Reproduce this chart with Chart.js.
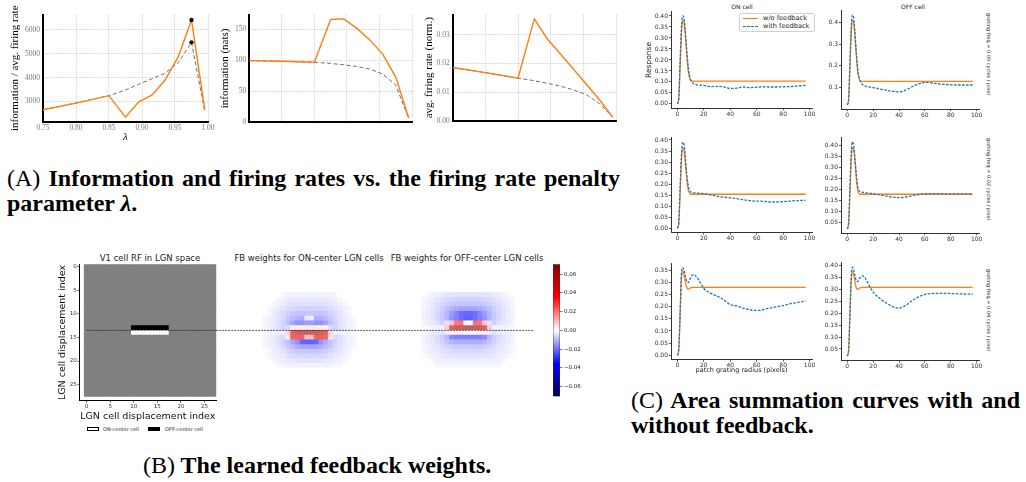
<!DOCTYPE html>
<html lang="en">
<head>
<meta charset="UTF-8">
<title>Feedback weights figure</title>
<script src="https://cdn.jsdelivr.net/npm/chart.js"></script>
<style>
  html, body { margin: 0; padding: 0; background: #fff; }
  body { position: relative; width: 1026px; height: 482px; overflow: hidden; font-family: "DejaVu Sans", sans-serif; }
  canvas { position: absolute; }
  .t { position: absolute; white-space: nowrap; line-height: 1; color: #222; transform: translate(-50%, -50%); }
  .rot { transform: translate(-50%, -50%) rotate(90deg); }
  .cap { position: absolute; font-family: "Liberation Serif", "Times New Roman", serif; font-size: 24px; line-height: 25px; font-weight: bold; color: #000; text-align: justify; }
  .cap .n { font-weight: normal; }
  .legend { position: absolute; left: 739px; top: 12.5px; width: 76px; height: 19px; border: 0.8px solid #d0d0d0; border-radius: 2px; background: rgba(255,255,255,0.85); box-sizing: border-box; }
  .legend .s { position: absolute; left: 3px; width: 15px; height: 0; }
  .legend .l { position: absolute; left: 23px; font-size: 6.6px; line-height: 1; color: #222; }
  .box { position: absolute; height: 4px; width: 12px; box-sizing: border-box; border: 0.7px solid #000; }
</style>
</head>
<body>

<!-- panel A caption -->
<div class="cap" style="left:7px; top:166px; width:613px;"><span class="n">(A)</span> Information and firing rates vs. the firing rate penalty parameter <i>λ</i>.</div>

<!-- panel B texts -->
<div class="t" style="left:150px; top:258px; font-size:8.5px;">V1 cell RF in LGN space</div>
<div class="t" style="left:309px; top:258px; font-size:8.5px;">FB weights for ON-center LGN cells</div>
<div class="t" style="left:467px; top:258px; font-size:8.5px;">FB weights for OFF-center LGN cells</div>
<div class="box" style="left:87px; top:426.5px; background:#fff;"></div>
<div class="t" style="left:121px; top:428.5px; font-size:5px;">ON-center cell</div>
<div class="box" style="left:148px; top:426.5px; background:#000;"></div>
<div class="t" style="left:184px; top:428.5px; font-size:5px;">OFF-center cell</div>
<div class="cap" style="left:143px; top:453px;"><span class="n">(B)</span> The learned feedback weights.</div>

<!-- panel C texts -->
<div class="t" style="left:742px; top:7px; font-size:6px;">ON cell</div>
<div class="t" style="left:913px; top:7px; font-size:6px;">OFF cell</div>
<div class="t rot" style="left:988px; top:54px; font-size:5px;">grating freq = 0.00 cycles / pixel</div>
<div class="t rot" style="left:988px; top:179px; font-size:5px;">grating freq = 0.02 cycles / pixel</div>
<div class="t rot" style="left:988px; top:310px; font-size:5px;">grating freq = 0.04 cycles / pixel</div>
<div class="legend">
  <div class="s" style="top:4.5px; border-top:1.4px solid #ff7f0e;"></div>
  <div class="l" style="top:1.6px;">w/o feedback</div>
  <div class="s" style="top:12.5px; border-top:1.4px dashed #1f77b4;"></div>
  <div class="l" style="top:9.6px;">with feedback</div>
</div>
<div class="cap" style="left:631px; top:388px; width:389px;"><span class="n">(C)</span> Area summation curves with and without feedback.</div>

<script>
// ---------- panel A data ----------
const lambdas = [0.75, 0.80, 0.85, 0.875, 0.895, 0.915, 0.935, 0.955, 0.975, 0.995];
const peakLambda = 0.975;
const infoPerRateSolid  = [2650, 2930, 3240, 2340, 2980, 3260, 3900, 4880, 6420, 2680];
const infoPerRateDashed = [2650, 2930, 3240, 3480, 3720, 3950, 4190, 4630, 5480, 2600];
const infoPerRateTicks  = [3000, 4000, 5000, 6000];
const infoSolid  = [99.5, 98.5, 97, 166, 167, 152, 133, 110, 73, 7];
const infoDashed = [99.5, 98.5, 97, 95, 93, 90, 86, 78, 60, 6];
const infoTicks  = [0, 50, 100, 150];
const rateSolid  = [0.0186, 0.0168, 0.0149, 0.0355, 0.0285, 0.0233, 0.0180, 0.0127, 0.0073, 0.0013];
const rateDashed = [0.0186, 0.0168, 0.0149, 0.0140, 0.0131, 0.0121, 0.0108, 0.0091, 0.0060, 0.0013];
const rateTicks  = [0.00, 0.01, 0.02, 0.03];

// ---------- panel B data ----------
const gridSize = 28;
const heatTicks = [0, 5, 10, 15, 20, 25];
const cutRow = 13.5;
const cutStart = [0, -6.3, -6.3];
const cutEnd = [27.5, 27.5, 27.2];
const rfRow0 = 13, rfCol0 = 10;
const rfBlock = [
  [-1, -1, -1, -1, -1, -1, -1, -1],
  [ 1,  1,  1,  1,  1,  1,  1,  1]
];
const blockRow0 = 6, blockCol0 = 4;
const onBlock = [
  [0, 0, 0, 0, -.002, -.003, -.003, -.003, -.003, -.003, -.003, -.003, -.003, -.003, -.003, -.002, 0, 0, 0, 0],
  [0, 0, 0, -.002, -.003, -.004, -.005, -.005, -.005, -.005, -.005, -.005, -.005, -.005, -.004, -.003, -.002, 0, 0, 0],
  [0, 0, -.002, -.003, -.005, -.006, -.007, -.007, -.007, -.007, -.007, -.007, -.007, -.007, -.006, -.005, -.003, -.002, 0, 0],
  [0, -.002, -.003, -.005, -.006, -.008, -.009, -.010, -.010, -.010, -.010, -.010, -.010, -.009, -.008, -.006, -.005, -.003, -.002, 0],
  [0, -.002, -.004, -.006, -.008, -.010, -.012, -.013, -.013, -.013, -.013, -.013, -.013, -.012, -.010, -.008, -.006, -.004, -.002, 0],
  [-.002, -.003, -.004, -.006, -.009, -.012, -.015, -.017, -.018, -.005, -.004, -.018, -.017, -.015, -.012, -.009, -.006, -.004, -.003, -.002],
  [-.002, -.003, -.005, -.007, -.010, -.014, -.020, -.024, -.024, -.022, -.022, -.024, -.024, -.020, -.014, -.010, -.007, -.005, -.003, -.002],
  [-.002, -.003, -.005, -.007, -.010, -.008, .003, .004, .005, .005, .005, .005, .004, .003, -.008, -.010, -.007, -.005, -.003, -.002],
  [-.001, -.002, -.003, -.004, -.004, .010, .045, .058, .060, .060, .060, .060, .058, .045, .010, -.004, -.004, -.003, -.002, -.001],
  [-.002, -.003, -.005, -.007, -.008, .005, .040, .045, .040, .015, .015, .040, .045, .035, .005, -.008, -.007, -.005, -.003, -.002],
  [-.002, -.003, -.005, -.007, -.010, -.014, -.020, -.024, -.034, -.036, -.036, -.034, -.024, -.018, -.014, -.010, -.007, -.005, -.003, -.002],
  [-.002, -.003, -.004, -.006, -.009, -.012, -.015, -.018, -.020, -.020, -.020, -.020, -.018, -.015, -.012, -.009, -.006, -.004, -.003, -.002],
  [0, -.002, -.004, -.005, -.007, -.009, -.011, -.012, -.013, -.013, -.013, -.013, -.012, -.011, -.009, -.007, -.005, -.004, -.002, 0],
  [0, -.002, -.003, -.004, -.005, -.007, -.008, -.009, -.009, -.009, -.009, -.009, -.009, -.008, -.007, -.005, -.004, -.003, -.002, 0],
  [0, 0, -.002, -.003, -.004, -.005, -.005, -.006, -.006, -.006, -.006, -.006, -.006, -.005, -.005, -.004, -.003, -.002, 0, 0],
  [0, 0, 0, -.002, -.002, -.003, -.003, -.003, -.003, -.003, -.003, -.003, -.003, -.003, -.003, -.002, -.002, 0, 0, 0]
];
const offBlock = [
  [0, -.002, -.003, -.004, -.005, -.006, -.006, -.007, -.007, -.007, -.007, -.007, -.007, -.006, -.006, -.005, -.004, -.003, -.002, 0],
  [-.002, -.003, -.004, -.006, -.007, -.008, -.009, -.010, -.010, -.010, -.010, -.010, -.010, -.009, -.008, -.007, -.006, -.004, -.003, -.002],
  [-.002, -.003, -.005, -.007, -.009, -.011, -.012, -.013, -.013, -.013, -.013, -.013, -.013, -.012, -.011, -.009, -.007, -.005, -.003, -.002],
  [-.002, -.004, -.006, -.008, -.011, -.014, -.017, -.019, -.020, -.020, -.020, -.020, -.019, -.017, -.014, -.011, -.008, -.006, -.004, -.002],
  [-.003, -.004, -.006, -.009, -.012, -.016, -.022, -.027, -.032, -.034, -.034, -.032, -.027, -.022, -.016, -.012, -.009, -.006, -.004, -.003],
  [-.003, -.004, -.006, -.009, -.012, -.017, -.024, -.028, -.032, -.036, -.036, -.032, -.028, -.024, -.017, -.012, -.009, -.006, -.004, -.003],
  [-.002, -.004, -.005, -.007, -.010, -.006, .012, .030, .032, .002, .000, .032, .030, .012, -.006, -.010, -.007, -.005, -.004, -.002],
  [-.001, -.002, -.003, -.003, -.003, .012, .050, .060, .060, .060, .060, .060, .060, .050, .012, -.003, -.003, -.003, -.002, -.001],
  [-.002, -.003, -.004, -.005, -.006, -.004, .002, .003, .002, .002, .002, .002, .003, .002, -.004, -.006, -.005, -.004, -.003, -.002],
  [-.003, -.004, -.006, -.008, -.011, -.016, -.026, -.028, -.028, -.028, -.028, -.028, -.028, -.026, -.016, -.011, -.008, -.006, -.004, -.003],
  [-.002, -.004, -.005, -.007, -.010, -.013, -.016, -.018, -.018, -.018, -.018, -.018, -.018, -.016, -.013, -.010, -.007, -.005, -.004, -.002],
  [-.002, -.003, -.005, -.006, -.008, -.010, -.011, -.012, -.012, -.012, -.012, -.012, -.012, -.011, -.010, -.008, -.006, -.005, -.003, -.002],
  [-.002, -.003, -.004, -.005, -.006, -.007, -.008, -.009, -.009, -.009, -.009, -.009, -.009, -.008, -.007, -.006, -.005, -.004, -.003, -.002],
  [0, -.002, -.003, -.004, -.005, -.006, -.006, -.006, -.006, -.006, -.006, -.006, -.006, -.006, -.006, -.005, -.004, -.003, -.002, 0],
  [0, 0, -.002, -.003, -.003, -.004, -.004, -.004, -.004, -.004, -.004, -.004, -.004, -.004, -.004, -.003, -.003, -.002, 0, 0],
  [0, 0, 0, -.002, -.002, -.002, -.002, -.002, -.002, -.002, -.002, -.002, -.002, -.002, -.002, -.002, -.002, 0, 0, 0]
];
const weightLimit = 0.0705;
const colorbarTicks = 0.02;

// ---------- panel C data ----------
const radius = [0, 1, 2, 3, 4, 5, 6, 7, 8, 9, 10, 11, 12, 13, 14, 16, 18, 20, 25, 30, 35, 40, 45, 50, 55, 60, 65, 70, 75, 80, 85, 90, 97];
const on00Plain = [0.000, 0.020, 0.160, 0.310, 0.380, 0.370, 0.310, 0.230, 0.160, 0.122, 0.107, 0.104, 0.104, 0.104, 0.104, 0.104, 0.104, 0.104, 0.104, 0.104, 0.104, 0.104, 0.104, 0.104, 0.104, 0.104, 0.104, 0.104, 0.104, 0.104, 0.104, 0.104, 0.104];
const on00Fb    = [0.000, 0.025, 0.190, 0.340, 0.400, 0.390, 0.330, 0.250, 0.180, 0.135, 0.110, 0.100, 0.093, 0.090, 0.088, 0.086, 0.085, 0.084, 0.079, 0.080, 0.077, 0.070, 0.072, 0.077, 0.074, 0.076, 0.078, 0.077, 0.077, 0.078, 0.079, 0.081, 0.084];
const off00Plain = [0.020, 0.040, 0.180, 0.340, 0.410, 0.400, 0.330, 0.250, 0.180, 0.145, 0.132, 0.129, 0.129, 0.129, 0.129, 0.129, 0.129, 0.129, 0.129, 0.129, 0.129, 0.129, 0.129, 0.129, 0.129, 0.129, 0.129, 0.129, 0.129, 0.129, 0.129, 0.129, 0.129];
const off00Fb    = [0.020, 0.045, 0.200, 0.370, 0.435, 0.420, 0.350, 0.260, 0.190, 0.150, 0.130, 0.120, 0.113, 0.110, 0.107, 0.104, 0.102, 0.100, 0.094, 0.088, 0.083, 0.080, 0.088, 0.104, 0.117, 0.124, 0.122, 0.118, 0.115, 0.113, 0.112, 0.112, 0.112];
const on02Plain = [0.000, 0.020, 0.150, 0.300, 0.365, 0.355, 0.300, 0.230, 0.180, 0.160, 0.155, 0.154, 0.154, 0.154, 0.154, 0.154, 0.154, 0.154, 0.154, 0.154, 0.154, 0.154, 0.154, 0.154, 0.154, 0.154, 0.154, 0.154, 0.154, 0.154, 0.154, 0.154, 0.154];
const on02Fb    = [0.000, 0.025, 0.180, 0.330, 0.390, 0.380, 0.320, 0.250, 0.200, 0.175, 0.165, 0.162, 0.160, 0.160, 0.160, 0.159, 0.158, 0.157, 0.151, 0.145, 0.141, 0.138, 0.134, 0.129, 0.125, 0.123, 0.122, 0.119, 0.119, 0.121, 0.123, 0.125, 0.127];
const off02Plain = [0.020, 0.040, 0.170, 0.330, 0.390, 0.380, 0.320, 0.250, 0.200, 0.182, 0.178, 0.178, 0.178, 0.178, 0.178, 0.178, 0.178, 0.178, 0.178, 0.178, 0.178, 0.178, 0.178, 0.178, 0.178, 0.178, 0.178, 0.178, 0.178, 0.178, 0.178, 0.178, 0.178];
const off02Fb    = [0.020, 0.045, 0.200, 0.360, 0.418, 0.400, 0.340, 0.270, 0.215, 0.195, 0.190, 0.188, 0.187, 0.186, 0.185, 0.183, 0.182, 0.181, 0.176, 0.170, 0.165, 0.163, 0.165, 0.171, 0.177, 0.180, 0.181, 0.181, 0.181, 0.180, 0.180, 0.180, 0.180];
const on04Plain = [0.000, 0.020, 0.150, 0.310, 0.345, 0.330, 0.300, 0.280, 0.271, 0.273, 0.277, 0.279, 0.279, 0.279, 0.279, 0.279, 0.279, 0.279, 0.279, 0.279, 0.279, 0.279, 0.279, 0.279, 0.279, 0.279, 0.279, 0.279, 0.279, 0.279, 0.279, 0.279, 0.279];
const on04Fb    = [0.000, 0.025, 0.170, 0.330, 0.360, 0.350, 0.325, 0.305, 0.298, 0.305, 0.318, 0.328, 0.331, 0.330, 0.325, 0.310, 0.292, 0.274, 0.255, 0.243, 0.228, 0.208, 0.203, 0.193, 0.187, 0.184, 0.188, 0.194, 0.199, 0.204, 0.211, 0.216, 0.223];
const off04Plain = [0.020, 0.040, 0.170, 0.330, 0.374, 0.360, 0.330, 0.305, 0.300, 0.302, 0.306, 0.308, 0.308, 0.308, 0.308, 0.308, 0.308, 0.308, 0.308, 0.308, 0.308, 0.308, 0.308, 0.308, 0.308, 0.308, 0.308, 0.308, 0.308, 0.308, 0.308, 0.308, 0.308];
const off04Fb    = [0.020, 0.045, 0.190, 0.350, 0.392, 0.380, 0.355, 0.335, 0.332, 0.340, 0.350, 0.355, 0.356, 0.352, 0.345, 0.325, 0.305, 0.288, 0.262, 0.243, 0.227, 0.221, 0.232, 0.252, 0.268, 0.278, 0.282, 0.283, 0.283, 0.282, 0.281, 0.280, 0.279];

// ---------- styling ----------
const ORANGE = '#ff7f0e';
const BLUE = '#1f77b4';
const SERIF = 'Liberation Serif';
const cellAlpha = 0.62;
const seismicStops = [
  [0.00, [0, 0, 77]],
  [0.25, [0, 0, 255]],
  [0.50, [255, 255, 255]],
  [0.75, [255, 0, 0]],
  [1.00, [128, 0, 0]]
];

Chart.defaults.font.family = 'DejaVu Sans';
Chart.defaults.color = '#333';
Chart.defaults.animation = false;

function canvasAt(left, top, w, h) {
  const c = document.createElement('canvas');
  c.width = w; c.height = h;
  c.style.left = left + 'px'; c.style.top = top + 'px';
  c.style.width = w + 'px'; c.style.height = h + 'px';
  document.body.appendChild(c);
  return c;
}

const quiet = { legend: { display: false }, tooltip: { enabled: false } };
const fixedTicks = list => s => { s.ticks = list.map(v => ({ value: v })); };

// ---------- panel A ----------
function lambdaPanel(p) {
  const cv = canvasAt(p.left, 5, p.w, 140);
  const pts = arr => lambdas.map((x, i) => ({ x: x, y: arr[i] }));
  const mark = c => (p.marks && lambdas[c.dataIndex] === peakLambda) ? 2.2 : 0;
  new Chart(cv, {
    type: 'line',
    data: { datasets: [
      { data: pts(p.solid), borderColor: ORANGE, borderWidth: 1.4, pointRadius: mark, pointBackgroundColor: '#111', pointBorderWidth: 0, order: 1 },
      { data: pts(p.dashed), borderColor: '#707070', borderWidth: 1, borderDash: [4, 2.5], pointRadius: mark, pointBackgroundColor: '#111', pointBorderWidth: 0, order: 2 }
    ]},
    options: {
      responsive: false, events: [],
      layout: { padding: { left: 0, top: p.t - 5, right: p.left + p.w - p.r, bottom: 0 } },
      plugins: quiet,
      scales: {
        x: {
          type: 'linear', min: 0.75, max: 1.0,
          afterFit: s => { s.height = 145 - p.b; s.paddingLeft = 0; s.paddingRight = 0; },
          grid: { color: '#c4c4c4', lineWidth: 0.8, drawTicks: false },
          border: { color: '#000', width: 2, dash: [1.2, 1.2] },
          ticks: { display: p.xlabels, stepSize: 0.05, includeBounds: false, padding: 2, maxRotation: 0,
                   color: '#7a7a7a', font: { family: SERIF, size: 7.5 }, callback: v => v.toFixed(2) },
          title: { display: p.xlabels, text: 'λ', color: '#000', font: { family: SERIF, size: 11, style: 'italic' }, padding: { top: 0, bottom: 1.4 } }
        },
        y: {
          min: p.ymin, max: p.ymax,
          afterBuildTicks: fixedTicks(p.yticks),
          afterFit: s => { s.width = p.l - p.left; s.paddingTop = 0; s.paddingBottom = 0; },
          grid: { color: '#c4c4c4', lineWidth: 0.8, drawTicks: false },
          border: { color: '#000', width: 2, dash: [1.2, 1.2] },
          ticks: { padding: 3, autoSkip: false,
                   color: '#7a7a7a', font: { family: SERIF, size: 7.5 }, callback: v => v.toFixed(p.yfix) },
          title: { display: true, text: p.title, color: '#000', font: { family: SERIF, size: 11 }, padding: { top: p.tpad, bottom: 0 } }
        }
      }
    }
  });
}

lambdaPanel({ left: 0, w: 218, l: 43, r: 208, t: 14.5, b: 122, solid: infoPerRateSolid, dashed: infoPerRateDashed, yticks: infoPerRateTicks,
  ymin: 2135, ymax: 6650, yfix: 0, title: 'information / avg. firing rate', tpad: 8.4, xlabels: true, marks: true });
lambdaPanel({ left: 214, w: 206, l: 249.3, r: 412, t: 14.5, b: 122.3, solid: infoSolid, dashed: infoDashed, yticks: infoTicks,
  ymin: 0, ymax: 174, yfix: 0, title: 'information (nats)', tpad: 4.4, xlabels: false, marks: false });
lambdaPanel({ left: 420, w: 206, l: 452.7, r: 616, t: 14.5, b: 121, solid: rateSolid, dashed: rateDashed, yticks: rateTicks,
  ymin: 0, ymax: 0.037, yfix: 2, title: 'avg. firing rate (norm.)', tpad: 2.4, xlabels: false, marks: false });

// ---------- panel B ----------
function seismicRGB(t) {
  t = Math.max(0, Math.min(1, t));
  for (let i = 1; i < seismicStops.length; i++) {
    const [t0, c0] = seismicStops[i - 1], [t1, c1] = seismicStops[i];
    if (t <= t1) {
      const f = (t - t0) / (t1 - t0);
      return c0.map((v, k) => v + f * (c1[k] - v));
    }
  }
  return seismicStops[seismicStops.length - 1][1];
}
function fbColor(v) {
  const m = seismicRGB((v / weightLimit + 1) / 2).map(x => Math.round(255 - cellAlpha * (255 - x)));
  return 'rgb(' + m.join(',') + ')';
}
function rfColor(v) {
  const g = Math.round(127.5 * (v + 1));
  return 'rgb(' + g + ',' + g + ',' + g + ')';
}
function cells(block, row0, col0) {
  const out = [];
  for (let r = 0; r < gridSize; r++) {
    for (let c = 0; c < gridSize; c++) {
      const row = block[r - row0];
      const v = (row && row[c - col0] !== undefined) ? row[c - col0] : 0;
      out.push({ x: c, y: r, v: v });
    }
  }
  return out;
}

function heatPanel(p) {
  const cv = canvasAt(p.left, 255, p.w, p.h);
  const tickFont = { size: 5.5 };
  // cell width in pixels from the plot width; rect point side = radius * sqrt(2)
  const areaW = p.w - p.pad.left - p.pad.right - (p.axes ? p.yw : 0);
  const cellR = areaW / (gridSize - 0.5 - p.xmin) * Math.SQRT1_2 + 0.6;
  new Chart(cv, {
    type: 'scatter',
    data: { datasets: [
      { data: [{ x: cutStart[p.k], y: cutRow }, { x: cutEnd[p.k], y: cutRow }], showLine: true, clip: false,
        borderColor: 'rgba(25,25,25,0.8)', borderWidth: 0.9, borderDash: [2, 1], pointRadius: 0, order: 0 },
      { data: p.cells, pointStyle: 'rect', radius: cellR, pointRadius: cellR, pointBorderWidth: 0, borderWidth: 0,
        pointBorderColor: 'rgba(0,0,0,0)', pointBackgroundColor: c => p.color(c.raw.v), order: 1 }
    ]},
    options: {
      responsive: false, events: [],
      layout: { padding: p.pad },
      plugins: quiet,
      scales: {
        x: {
          type: 'linear', display: p.axes, min: p.xmin, max: gridSize - 0.5,
          afterBuildTicks: fixedTicks(heatTicks),
          afterFit: s => { if (p.axes) { s.height = p.xh; s.paddingLeft = 0; s.paddingRight = 0; } },
          grid: { drawOnChartArea: false, tickLength: 2, tickColor: '#000', tickWidth: 0.6 },
          border: { color: '#000', width: 1 },
          ticks: { padding: 0.5, maxRotation: 0, font: tickFont, color: '#333' },
          title: { display: true, text: 'LGN cell displacement index', color: '#111', font: { size: 9.5 }, padding: { top: 0, bottom: 1.6 } }
        },
        y: {
          type: 'linear', display: p.axes, reverse: true, min: -0.5, max: p.ymax,
          afterBuildTicks: fixedTicks(heatTicks),
          afterFit: s => { if (p.axes) { s.width = p.yw; s.paddingTop = 0; s.paddingBottom = 0; } },
          grid: { drawOnChartArea: false, tickLength: 2, tickColor: '#000', tickWidth: 0.6 },
          border: { color: '#000', width: 1 },
          ticks: { padding: 0.5, autoSkip: false, font: tickFont, color: '#333' },
          title: { display: true, text: 'LGN cell displacement index', color: '#111', font: { size: 9.5 }, padding: { top: 7.3, bottom: 0 } }
        }
      }
    }
  });
}

heatPanel({ k: 0, left: 50, w: 172, h: 169, axes: true, xmin: -1.56, ymax: 28.4, xh: 23.3, yw: 29.3,
  pad: { left: 0, top: 9.3, right: 5.7, bottom: 0 }, cells: cells(rfBlock, rfRow0, rfCol0), color: rfColor });
heatPanel({ k: 1, left: 213, w: 170, h: 150, axes: false, xmin: -0.5, ymax: gridSize - 0.5,
  pad: { left: 30.5, top: 9.3, right: 7.5, bottom: 8.5 }, cells: cells(onBlock, blockRow0, blockCol0), color: fbColor });
heatPanel({ k: 2, left: 372, w: 170, h: 150, axes: false, xmin: -0.5, ymax: gridSize - 0.5,
  pad: { left: 30.5, top: 9.3, right: 7.5, bottom: 8.5 }, cells: cells(offBlock, blockRow0, blockCol0), color: fbColor });

// colorbar
(function () {
  const cv = canvasAt(546, 255, 42, 150);
  new Chart(cv, {
    type: 'bar',
    data: { labels: ['weight'], datasets: [{
      data: [[-weightLimit, weightLimit]], barPercentage: 1, categoryPercentage: 1,
      borderWidth: 0.7, borderColor: '#333', borderSkipped: false,
      backgroundColor: c => {
        const a = c.chart.chartArea;
        if (!a) return '#fff';
        const g = c.chart.ctx.createLinearGradient(0, a.bottom, 0, a.top);
        seismicStops.forEach(([t, rgb]) => g.addColorStop(t, 'rgb(' + rgb.join(',') + ')'));
        return g;
      }
    }]},
    options: {
      responsive: false, events: [],
      layout: { padding: { left: 7, top: 9.3, right: 0, bottom: 8.5 } },
      plugins: quiet,
      scales: {
        x: { display: false },
        y: {
          position: 'right', min: -weightLimit, max: weightLimit,
          afterFit: s => { s.width = 28; s.paddingTop = 0; s.paddingBottom = 0; },
          grid: { drawOnChartArea: false, tickLength: 2.5, tickColor: '#222', tickWidth: 0.6 },
          border: { display: false },
          ticks: { stepSize: colorbarTicks, includeBounds: false, autoSkip: false, padding: 1.5, color: '#222', font: { size: 5.5 },
                   callback: v => (v < -1e-9 ? '\u2212' : '') + Math.abs(v).toFixed(2) }
        }
      }
    }
  });
})();

// ---------- panel C ----------
function summationPanel(p) {
  const L = Math.floor(p.l) - 34, T = Math.floor(p.t) - 7;
  const W = Math.ceil(p.r) + 8 - L, H = Math.ceil(p.b) + 16 - T;
  const cv = canvasAt(L, T, W, H);
  const pts = arr => radius.map((x, i) => ({ x: x, y: arr[i] }));
  const tickFont = { size: 6 };
  new Chart(cv, {
    type: 'line',
    data: { datasets: [
      { data: pts(p.plain), borderColor: ORANGE, borderWidth: 1.3, pointRadius: 0, cubicInterpolationMode: 'monotone', order: 2 },
      { data: pts(p.fb), borderColor: BLUE, borderWidth: 1.3, borderDash: [2.6, 1.4], pointRadius: 0, cubicInterpolationMode: 'monotone', order: 1 }
    ]},
    options: {
      responsive: false, events: [],
      layout: { padding: { left: 0, top: p.t - T, right: L + W - p.r, bottom: 0 } },
      plugins: quiet,
      scales: {
        x: {
          type: 'linear', min: -4.85, max: 101.85,
          afterFit: s => { s.height = T + H - p.b; s.paddingLeft = 0; s.paddingRight = 0; },
          grid: { drawOnChartArea: false, tickLength: 2, tickColor: '#333', tickWidth: 0.8 },
          border: { color: '#333', width: 1 },
          ticks: { stepSize: 20, includeBounds: false, padding: 0.5, maxRotation: 0, autoSkip: false, font: tickFont, color: '#333' },
          title: { display: !!p.xtitle, text: 'patch grating radius (pixels)', color: '#222', font: { size: 6.5 }, padding: { top: 0, bottom: 2.1 } }
        },
        y: {
          min: p.ymin, max: p.ymax,
          afterFit: s => { s.width = p.l - L; s.paddingTop = 0; s.paddingBottom = 0; },
          grid: { drawOnChartArea: false, tickLength: 2, tickColor: '#333', tickWidth: 0.8 },
          border: { color: '#333', width: 1 },
          ticks: { stepSize: p.ystep, includeBounds: false, padding: 1, autoSkip: false, font: tickFont, color: '#333',
                   callback: v => v.toFixed(p.yfix) },
          title: { display: !!p.ytitle, text: 'Response', color: '#222', font: { size: 7.5 }, padding: { top: 7.5, bottom: 0 } }
        }
      }
    }
  });
}

summationPanel({ l: 671, r: 812, t: 11.6, b: 108.3, ymin: -0.02, ymax: 0.42, ystep: 0.05, yfix: 2, plain: on00Plain, fb: on00Fb, ytitle: true });
summationPanel({ l: 841, r: 979, t: 10.4, b: 109.1, ymin: 0.001, ymax: 0.456, ystep: 0.1, yfix: 1, plain: off00Plain, fb: off00Fb });
summationPanel({ l: 671, r: 812, t: 137.4, b: 232.6, ymin: -0.0196, ymax: 0.4116, ystep: 0.05, yfix: 2, plain: on02Plain, fb: on02Fb });
summationPanel({ l: 841, r: 979, t: 137.4, b: 233.2, ymin: 0.0001, ymax: 0.4379, ystep: 0.05, yfix: 2, plain: off02Plain, fb: off02Fb });
summationPanel({ l: 671, r: 812, t: 263.2, b: 359.7, ymin: -0.018, ymax: 0.378, ystep: 0.05, yfix: 2, plain: on04Plain, fb: on04Fb, xtitle: true });
summationPanel({ l: 841, r: 979, t: 262.8, b: 360.6, ymin: 0.0014, ymax: 0.4106, ystep: 0.05, yfix: 2, plain: off04Plain, fb: off04Fb });
</script>
</body>
</html>
